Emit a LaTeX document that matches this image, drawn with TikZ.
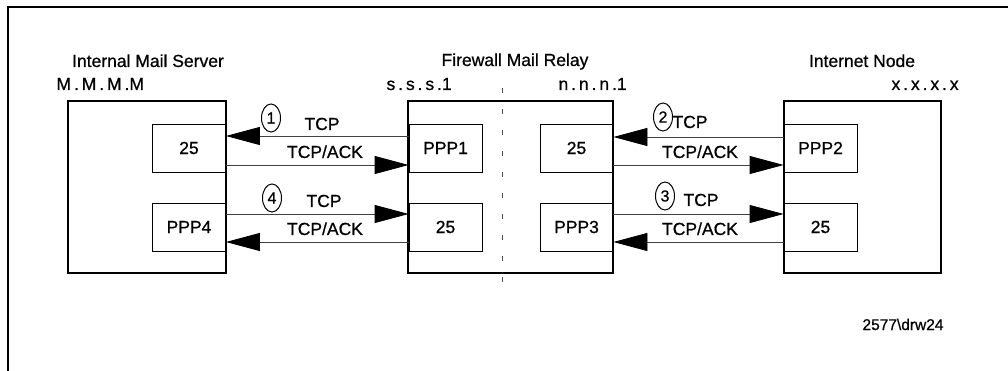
\documentclass[tikz,border=0pt]{standalone}
\usepackage{fontspec}
\setmainfont{Liberation Sans}[BoldFont={Liberation Sans},BoldFeatures={FakeBold=0.7}]
\usetikzlibrary{arrows.meta,shapes.geometric}
\begin{document}
\begin{tikzpicture}[x=1pt,y=-1pt,
  every node/.style={font=\fontsize{17.5}{20}\selectfont\bfseries},
  outerbox/.style={draw,line width=1.1pt,minimum width=#1,inner sep=0pt,minimum height=172pt},
  portbox/.style={draw,line width=0.8pt,minimum width=73pt,minimum height=48pt,inner sep=0pt},
  title/.style={anchor=base},
  lbl/.style={anchor=base},
  num/.style={draw,ellipse,line width=1pt,minimum width=19pt,minimum height=28pt,inner sep=0pt,font=\fontsize{16}{18}\selectfont\bfseries},
  arr/.style={draw=black!75,line width=0.8pt,-{Triangle[length=34pt,width=18pt,fill=black,color=black]}}
]
\useasboundingbox (0,0) rectangle (1008,371);
% frame
\draw[line width=2pt] (8,371) -- (8,7) -- (1008,7);
% outer boxes
\node[outerbox=158pt] (srv) at (147,187) {};
\node[outerbox=205pt] (relay) at (510.5,187) {};
\node[outerbox=157pt] (inet) at (862.5,187) {};
% dashed separator
\coordinate (dtop) at (502,88);
\coordinate (dbot) at (502,284);
\draw[black!70,line width=0.8pt,dash pattern=on 5pt off 16pt] (dtop) -- (dbot);
% port boxes
\node[portbox] (srv25) at (189,148) {25};
\node[portbox] (ppp4) at (189,227) {PPP4};
\node[portbox] (ppp1) at (445.5,148) {PPP1};
\node[portbox] (r25a) at (576.5,148) {25};
\node[portbox] (r25b) at (445.5,227) {25};
\node[portbox] (ppp3) at (576.5,227) {PPP3};
\node[portbox] (ppp2) at (820.5,148) {PPP2};
\node[portbox] (i25) at (820.5,227) {25};
% titles
\node[title] (t1) at (148,67) {Internal Mail Server};
\node[title,anchor=base west] (a1) at (53,90) {M\,.\,M\,.\,M\,.M};
\node[title] (t2) at (515,66) {Firewall Mail Relay};
\node[title,anchor=base west] (a2) at (383,90) {s\,.\,s\,.\,s\,.1};
\node[title,anchor=base west] (a3) at (555,90) {n\,.\,n\,.\,n\,.1};
\node[title] (t3) at (862,67) {Internet Node};
\node[title,anchor=base west] (a4) at (888,90) {x\,.\,x\,.\,x\,.\,x};
% connectors
\draw[arr] ([yshift=12pt]ppp1.west) -- ([yshift=12pt]srv25.east);
\draw[arr] ([yshift=-17pt]srv25.east) -- ([yshift=-17pt]ppp1.west);
\draw[arr] ([yshift=13pt]ppp4.east) -- ([yshift=13pt]r25b.west);
\draw[arr] ([yshift=-15pt]r25b.west) -- ([yshift=-15pt]ppp4.east);
\draw[arr] ([yshift=11pt]ppp2.west) -- ([yshift=11pt]r25a.east);
\draw[arr] ([yshift=-17pt]r25a.east) -- ([yshift=-17pt]ppp2.west);
\draw[arr] ([yshift=13pt]ppp3.east) -- ([yshift=13pt]i25.west);
\draw[arr] ([yshift=-15pt]i25.west) -- ([yshift=-15pt]ppp3.east);
% labels
\node[num] (n1) at (271,118) {1};
\node[lbl] (l1a) at (322,130) {TCP};
\node[lbl] (l1b) at (325,158) {TCP/ACK};
\node[num] (n4) at (272,198) {4};
\node[lbl] (l4a) at (324,207) {TCP};
\node[lbl] (l4b) at (325,235) {TCP/ACK};
\node[num] (n2) at (663,117) {2};
\node[lbl] (l2a) at (690,128) {TCP};
\node[lbl] (l2b) at (700,158) {TCP/ACK};
\node[num] (n3) at (665,196) {3};
\node[lbl] (l3a) at (701,206) {TCP};
\node[lbl] (l3b) at (700,235) {TCP/ACK};
% figure id
\node[anchor=base,font=\fontsize{15.5}{17}\selectfont\bfseries] (fid) at (903,330) {2577\textbackslash drw24};
\end{tikzpicture}
\end{document}
